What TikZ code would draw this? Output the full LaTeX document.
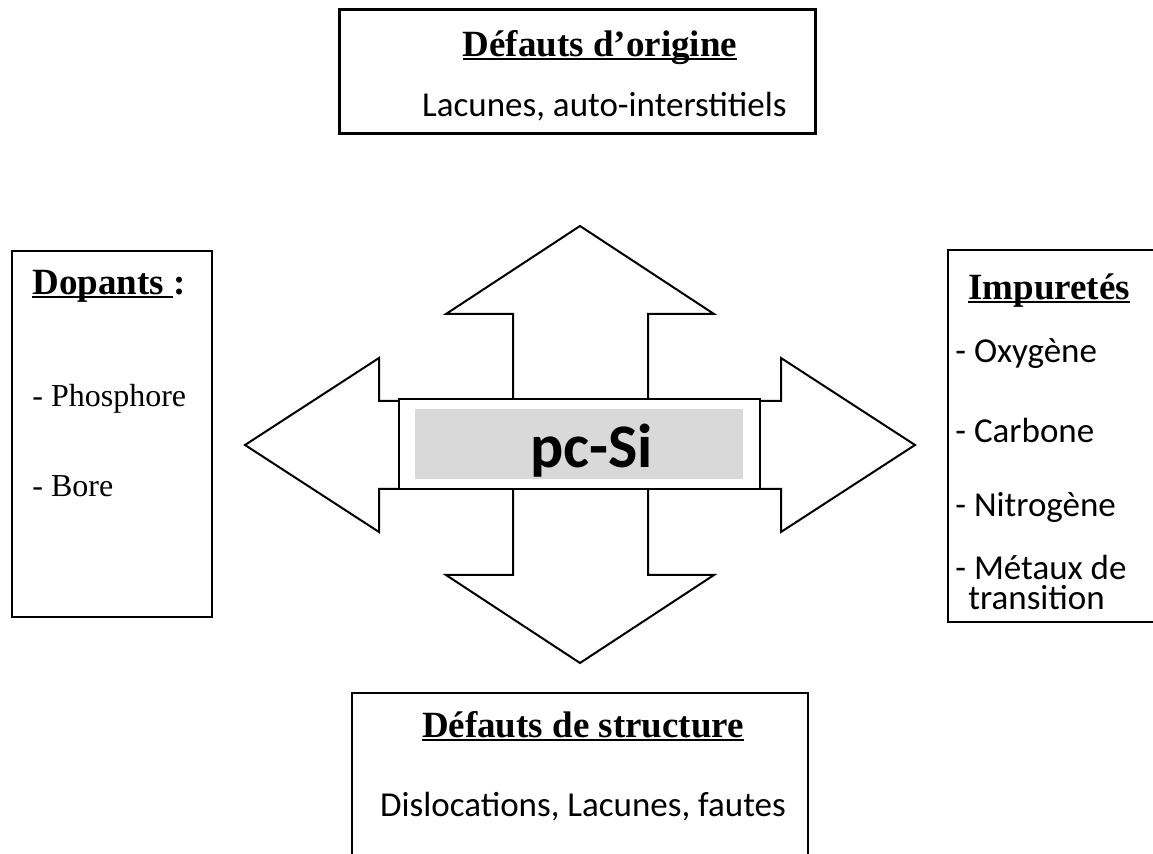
\documentclass[tikz,border=0pt]{standalone}
\usepackage{fontspec}
\setmainfont{Liberation Serif}
\newfontfamily\calib{Carlito}
\newcommand\ulin[1]{\setbox0\hbox{#1}\rlap{\rule[-0.09em]{\wd0}{0.05em}}\box0}

\colorlet{frame edge}{black}
\colorlet{core area}{black!15}
\tikzset{
  panel/.style={draw=frame edge, line width=1pt, fill=white, inner sep=0pt},
  head/.style={font=\fontsize{18.5}{22}\selectfont\bfseries, inner sep=0pt, anchor=base},
  item/.style={font=\calib\fontsize{17.5}{21}\selectfont, inner sep=0pt, anchor=base west},
  dop/.style={font=\fontsize{16}{19}\selectfont, inner sep=0pt, anchor=base west},
  arrowbody/.style={draw=frame edge, line width=1pt, fill=white, line join=miter}
  }

\begin{document}
\begin{tikzpicture}[x=0.5pt, y=-0.5pt]
\useasboundingbox (0,0) rectangle (1153,854);
\clip (0,0) rectangle (1153,854);

% the four boxes
\node[panel, line width=1.5pt, minimum width=238pt, minimum height=62pt] (origine) at (577,72) {};
\node[panel, minimum width=100pt, minimum height=183pt] (dopants) at (112,434) {};
\node[panel, minimum width=106pt, minimum height=186pt] (impuretes) at (1054,436) {};
\node[panel, minimum width=228pt, minimum height=100pt] (structure) at (580,793) {};

% cross of arrows
\draw[arrowbody] (580,226) -- (714,314) -- (648,314) -- (648,401) -- (781,401) -- (781,358)
  -- (915,445) -- (781,532) -- (781,489) -- (648,489) -- (648,575) -- (714,575)
  -- (580,663) -- (446,575) -- (513,575) -- (513,489) -- (379,489) -- (379,532)
  -- (245,445) -- (379,358) -- (379,401) -- (513,401) -- (513,314) -- (446,314) -- cycle;
\node[panel, minimum width=180.5pt, minimum height=45pt] (core) at (579.5,444) {};
\node[fill=core area, minimum width=164pt, minimum height=35pt, inner sep=0pt] (grey) at (579,444) {};
\node[font=\calib\bfseries\fontsize{31}{36}\selectfont, inner sep=0pt, anchor=base west] (pcsi) at (530,468) {pc-Si};

% top
\node[head] (t1) at (600,57) {\ulin{Défauts d’origine}};
\node[item, anchor=base east] (t2) at (787,117) {Lacunes, auto-interstitiels};

% left
\node[head, anchor=base west] (d0) at (32,295) {\ulin{Dopants }:};
\foreach \y/\txt [count=\i] in {407/Phosphore, 497/Bore}
  \node[dop] (d\i) at (32,\y) {- \txt};

% right
\node[head, anchor=base west] (i0) at (968,300) {\ulin{Impuretés}};
\foreach \y/\txt [count=\i] in {363/Oxygène, 443/Carbone, 517/Nitrogène, 580/Métaux de}
  \node[item] (i\i) at (955,\y) {- \txt};
\node[item] (i5) at (968,610) {transition};

% bottom
\node[head] (b1) at (583,738) {\ulin{Défauts de structure}};
\node[item, anchor=base] (b2) at (583,817) {Dislocations, Lacunes, fautes};

\end{tikzpicture}
\end{document}
